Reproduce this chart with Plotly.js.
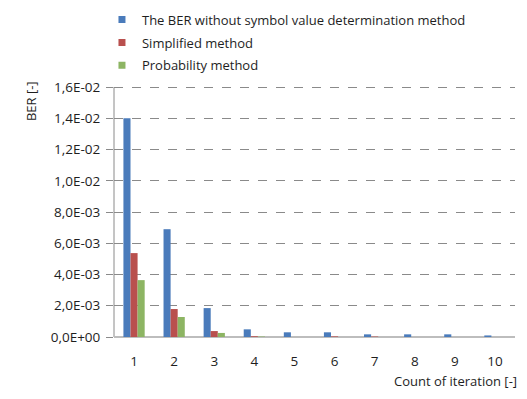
<!DOCTYPE html>
<html>
<head>
<meta charset="utf-8">
<script src="https://cdn.plot.ly/plotly-3.0.1.min.js"></script>
<style>html,body{margin:0;padding:0;background:#fff;}#chart{width:527px;height:399px;}</style>
</head>
<body>
<div id="chart"></div>
<script>
const categories = ['1','2','3','4','5','6','7','8','9','10'];
const seriesNames = ['The BER without symbol value determination method', 'Simplified method', 'Probability method'];
const berWithout = [0.0140, 0.0069, 0.00185, 0.00049, 0.0003, 0.0003, 0.00017, 0.00017, 0.00017, 0.0001];
const berSimplified = [0.00537, 0.00179, 0.00038, 0.00005, 0.0, 0.00004, 0.00003, 0.0, 0.0, 0.0];
const berProbability = [0.00364, 0.00128, 0.00026, 0.00003, 0.0, 0.0, 0.0, 0.0, 0.0, 0.0];
const yTickVals = [0, 0.002, 0.004, 0.006, 0.008, 0.010, 0.012, 0.014, 0.016];
const yTickText = ['0,0E+00','2,0E-03','4,0E-03','6,0E-03','8,0E-03','1,0E-02','1,2E-02','1,4E-02','1,6E-02'];
const colors = ['#4a7bbb', '#b9504e', '#8db563'];
const seriesValues = [berWithout, berSimplified, berProbability];

const fam = 'Open Sans, Noto Sans, sans-serif';
const txt = '#1e1e1e';
const barTraces = seriesValues.map((vals, i) => ({
  type: 'bar', x: categories, y: vals, name: seriesNames[i],
  marker: {color: colors[i]}, hoverinfo: 'skip', showlegend: false
}));
const legendTraces = seriesNames.map((nm, i) => ({
  type: 'scatter', mode: 'markers', x: [null], y: [null], name: nm,
  legendgroup: 'g' + i,
  marker: {color: colors[i], symbol: 'square', size: 7}, hoverinfo: 'skip', showlegend: true
}));

const layout = {
  width: 527, height: 399,
  margin: {l: 114, r: 12, t: 85, b: 62, autoexpand: false},
  paper_bgcolor: '#fff', plot_bgcolor: '#fff',
  font: {family: fam, size: 13, color: txt},
  barmode: 'group', bargap: 0.47, bargroupgap: 0,
  showlegend: true,
  legend: {x: -0.03, xanchor: 'left', y: 1.319, yanchor: 'top', font: {family: fam, size: 13, color: txt},
           tracegroupgap: 3, itemwidth: 30, bgcolor: 'rgba(0,0,0,0)'},
  xaxis: {
    type: 'category', showgrid: false, showline: false, zeroline: false,
    ticks: '', tickfont: {family: fam, size: 13.5, color: txt},
    ticklabelstandoff: 14,
    fixedrange: true
  },
  yaxis: {
    range: [0, 0.01613], tickvals: yTickVals, ticktext: yTickText,
    showgrid: true, gridcolor: '#8a8a8a', griddash: 'dash', gridwidth: 1,
    zeroline: true, zerolinecolor: '#bdbdbd', zerolinewidth: 2,
    showline: false,
    ticks: 'outside', ticklen: 7, tickcolor: '#8a8a8a',
    ticklabelstandoff: 3,
    tickfont: {family: fam, size: 13.5, color: txt},
    fixedrange: true
  },
  shapes: [
    {type: 'line', xref: 'paper', yref: 'y', x0: 0, x1: 0, y0: 0, y1: yTickVals[yTickVals.length - 1],
     line: {color: '#8a8a8a', width: 1}, layer: 'below'}
  ],
  annotations: [
    {text: 'BER [-]', xref: 'paper', yref: 'paper', x: -0.207, y: 0.936, xanchor: 'center', yanchor: 'middle',
     textangle: -90, showarrow: false, font: {family: fam, size: 13, color: txt}},
    {text: 'Count of iteration [-]', xref: 'paper', yref: 'paper', x: 1.01, y: -0.176, xanchor: 'right', yanchor: 'middle',
     showarrow: false, font: {family: fam, size: 13, color: txt}}
  ]
};

Plotly.newPlot('chart', barTraces.concat(legendTraces), layout, {displayModeBar: false, staticPlot: true});
</script>
</body>
</html>
